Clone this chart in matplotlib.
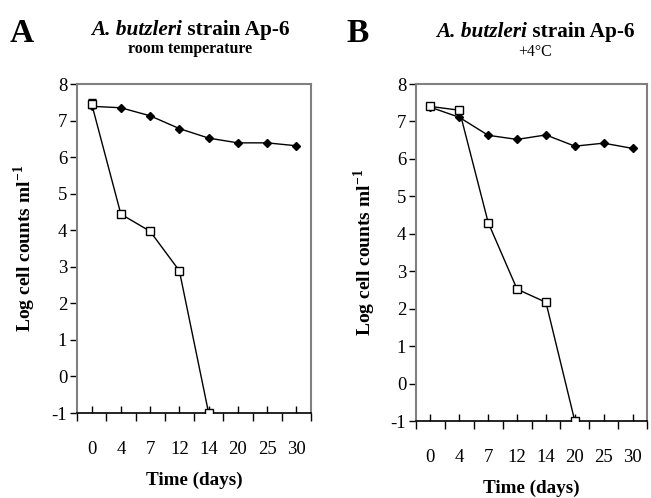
import matplotlib
matplotlib.use("Agg")
import matplotlib.pyplot as plt

plt.rcParams["font.family"] = ["Liberation Serif", "DejaVu Serif"]
plt.rcParams["mathtext.fontset"] = "custom"
plt.rcParams["mathtext.rm"] = "Liberation Serif"
plt.rcParams["mathtext.bf"] = "Liberation Serif:bold"

days = ["0", "4", "7", "12", "14", "20", "25", "30"]

# panel A - room temperature
a_diamond = [7.39, 7.35, 7.13, 6.78, 6.52, 6.39, 6.39, 6.31]
a_square = [7.46, 4.44, 3.97, 2.89, -1.0]
a_square_err = [0.13, 0.08, 0.06, 0.06, 0.0]

# panel B - +4 C
b_diamond = [7.38, 7.11, 6.63, 6.52, 6.64, 6.34, 6.42, 6.28]
b_square = [7.40, 7.30, 4.30, 2.52, 2.17, -1.0]
b_square_err = [0.05, 0.06, 0.06, 0.05, 0.05, 0.0]

W, H = 651, 498
fig = plt.figure(figsize=(W / 100, H / 100), dpi=100)


def px_axes(l, t, r, b):
    return fig.add_axes([l / W, 1 - b / H, (r - l) / W, (b - t) / H])


def setup(ax, ylab_px):
    n = len(days)
    ax.set_xlim(0, n)
    ax.set_ylim(-1, 8)
    ax.set_yticks(range(-1, 9))
    ax.set_yticklabels([str(v) for v in range(-1, 9)], fontsize=13.5)
    ax.set_xticks(range(n + 1))
    ax.set_xticklabels([])
    ax.set_xticks([i + 0.5 for i in range(n)], days, minor=True)
    ax.tick_params(axis="x", which="major", direction="out", length=6, width=1)
    ax.tick_params(axis="x", which="minor", direction="in", length=5, width=1,
                   pad=20, labelsize=13.5)
    ax.tick_params(axis="y", direction="out", length=5, width=1, pad=2)
    for s in ("top", "right", "left"):
        ax.spines[s].set_color("#808080")
        ax.spines[s].set_linewidth(1.5)
    ax.spines["bottom"].set_color("black")
    ax.spines["bottom"].set_linewidth(1.2)
    ax.set_ylabel("Log cell counts ml$^{\\mathbf{-1}}$", fontsize=14, fontweight="bold")
    w = ax.get_position().width * W
    ax.yaxis.set_label_coords(-ylab_px / w, 0.5)
    ax.set_xlabel("Time (days)", fontsize=13.8, fontweight="bold", labelpad=10)


def draw(ax, diamond, square, err):
    x = [i + 0.5 for i in range(len(diamond))]
    ax.plot(x, diamond, "-D", color="black", lw=1, ms=4.5, zorder=3)
    xs = x[:len(square)]
    ax.errorbar(xs, square, yerr=err, fmt="-s", color="black", lw=1, ms=6,
                mfc="white", mec="black", mew=1, capsize=3, elinewidth=1, zorder=4)


axA = px_axes(77, 84, 311, 413)
setup(axA, 39)
draw(axA, a_diamond, a_square, a_square_err)

axB = px_axes(416, 84, 647, 421)
setup(axB, 38)
draw(axB, b_diamond, b_square, b_square_err)


def title(cx, cy, sub, sub_bold, sub_dy):
    r = fig.canvas.get_renderer()
    t1 = fig.text(0, 0, "A. butzleri", fontsize=15.3, fontweight="bold",
                  style="italic", va="center", ha="left")
    t2 = fig.text(0, 0, " strain Ap-6", fontsize=15.3, fontweight="bold",
                  va="center", ha="left")
    w1 = t1.get_window_extent(r).width
    w2 = t2.get_window_extent(r).width
    x0 = cx - (w1 + w2) / 2
    t1.set_position((x0 / W, 1 - cy / H))
    t2.set_position(((x0 + w1) / W, 1 - cy / H))
    fig.text(cx / W, 1 - (cy + sub_dy) / H, sub, fontsize=11.4,
             fontweight="bold" if sub_bold else "normal", ha="center", va="center")


title(190, 30, "room temperature", True, 19)
title(535, 32, "+4°C", False, 20)
fig.text(22 / W, 1 - 34 / H, "A", fontsize=24, fontweight="bold", ha="center", va="center")
fig.text(358 / W, 1 - 34 / H, "B", fontsize=24, fontweight="bold", ha="center", va="center")

fig.savefig("out.png", dpi=100)
